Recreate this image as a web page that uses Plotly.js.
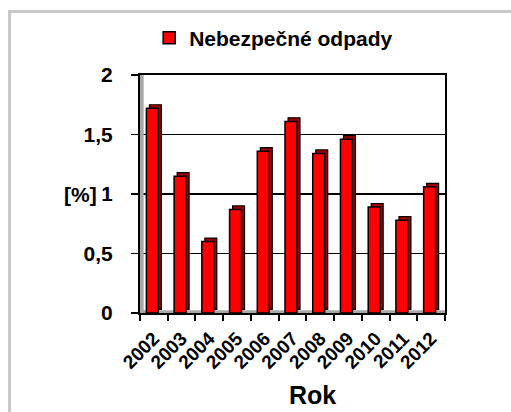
<!DOCTYPE html>
<html>
<head>
<meta charset="utf-8">
<script src="https://cdn.plot.ly/plotly-3.0.1.min.js"></script>
<style>
  html, body { margin: 0; padding: 0; background: #fff; }
  #wrap { position: relative; width: 511px; height: 412px; }
  #chart { position: absolute; left: 0; top: 0; width: 511px; height: 412px; }
  #frame { position: absolute; left: 8px; top: 10px; width: 503px; height: 402px;
           border-top: 3px solid #c8c8c8; border-left: 3px solid #c8c8c8; pointer-events: none; }
</style>
</head>
<body>
<div id="wrap">
  <div id="chart"></div>
  <div id="frame"></div>
</div>
<script>
const years = ["2002", "2003", "2004", "2005", "2006", "2007", "2008", "2009", "2010", "2011", "2012"];
const values = [1.72, 1.15, 0.60, 0.87, 1.36, 1.61, 1.34, 1.46, 0.89, 0.78, 1.06];
const seriesName = "Nebezpečné odpady";
const yTickVals = [0, 0.5, 1, 1.5, 2];
const yTickText = ["0", "0,5", "1", "1,5", "2"];
const xTitle = "Rok";
const yTitle = "[%]";

const depth = 0.03;
const font = "Liberation Sans, Arial, sans-serif";

const shadow = {
  type: "bar",
  x: years,
  y: values,
  base: years.map(() => depth),
  width: 0.43,
  offset: -0.16,
  marker: { color: "#a00000", line: { color: "#000", width: 1.2 } },
  showlegend: false,
  hoverinfo: "skip"
};
const front = {
  type: "bar",
  name: seriesName,
  x: years,
  y: values,
  width: 0.43,
  offset: -0.27,
  marker: { color: "#ff0000", line: { color: "#000", width: 1.5 } }
};

const layout = {
  width: 511, height: 412,
  margin: { l: 140, r: 66, t: 75, b: 99 },
  paper_bgcolor: "#fff", plot_bgcolor: "#fff",
  barmode: "overlay",
  showlegend: true,
  legend: {
    orientation: "h", x: 0.03, xanchor: "left", y: 1.155, yanchor: "middle",
    font: { family: font, size: 21, color: "#000", weight: "bold" },
    itemwidth: 30, bgcolor: "rgba(0,0,0,0)"
  },
  xaxis: {
    type: "category",
    showline: true, linecolor: "#000", linewidth: 2, mirror: true,
    ticks: "outside", tickson: "boundaries", ticklen: 6, tickwidth: 2, tickcolor: "#000",
    tickangle: -45, ticklabelstandoff: 5,
    tickfont: { family: font, size: 19, color: "#000", weight: "bold" },
    showgrid: false
  },
  yaxis: {
    range: [0, 2],
    tickvals: yTickVals, ticktext: yTickText,
    showline: true, linecolor: "#000", linewidth: 2, mirror: true,
    ticks: "outside", ticklen: 7, tickwidth: 1.5, tickcolor: "#000",
    ticklabelstandoff: 14,
    tickfont: { family: font, size: 21, color: "#000", weight: "bold" },
    showgrid: true, gridcolor: "#000", gridwidth: 1.5,
    zeroline: false
  },
  shapes: [
    { type: "rect", xref: "paper", yref: "paper", x0: 0, x1: 0.012, y0: 0, y1: 1,
      fillcolor: "#a8a8a8", line: { width: 0 }, layer: "above" },
    { type: "rect", xref: "paper", yref: "paper", x0: 0, x1: 1, y0: 0, y1: 0.012,
      fillcolor: "#a8a8a8", line: { width: 0 }, layer: "below" }
  ],
  annotations: [
    { xref: "paper", yref: "y", x: -0.27, y: 1, xanchor: "left", yanchor: "middle",
      text: yTitle, showarrow: false, bgcolor: "#fff", borderpad: 5,
      font: { family: font, size: 21, color: "#000", weight: "bold" } },
    { xref: "paper", yref: "paper", x: 0.567, y: -0.345, xanchor: "center", yanchor: "middle",
      text: xTitle, showarrow: false,
      font: { family: font, size: 25, color: "#000", weight: "bold" } }
  ]
};

Plotly.newPlot("chart", [shadow, front], layout, { displayModeBar: false, staticPlot: true });
</script>
</body>
</html>
